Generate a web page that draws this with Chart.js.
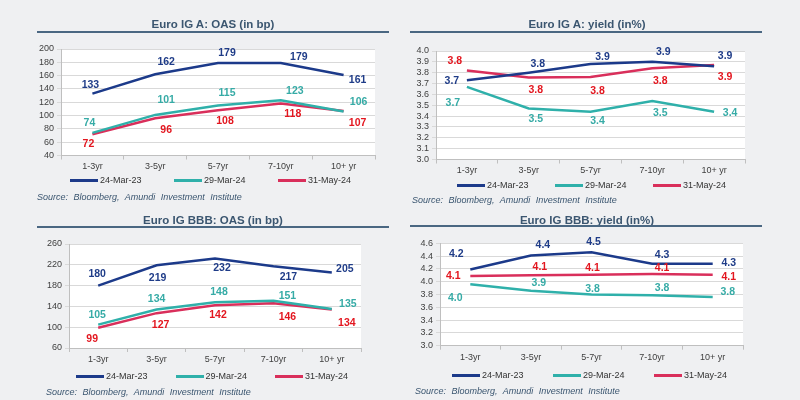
<!DOCTYPE html>
<html>
<head>
<meta charset="utf-8">
<script src="https://cdn.jsdelivr.net/npm/chart.js@4.4.0/dist/chart.umd.min.js"></script>
<style>
    body { margin: 0; width: 800px; height: 400px; background: #eff0f2; position: relative; overflow: hidden;
           font-family: "Liberation Sans", Arial, sans-serif; }
    canvas { position: absolute; }
    .title { position: absolute; width: 360px; text-align: center; font-weight: bold; font-size: 11.5px; color: #3b5670; }
    .rule { position: absolute; height: 2px; background: #4a6782; }
    .src { position: absolute; font-style: italic; font-size: 9px; color: #3b5670; word-spacing: 3px; white-space: nowrap; }
    .leg { position: absolute; font-size: 9px; color: #333; white-space: nowrap; line-height: 12px; }
    .leg i { display: inline-block; width: 28px; height: 3px; margin-right: 2px; vertical-align: middle; }
</style>
</head>
<body>
<canvas id="oasA" width="400" height="200" style="left:0;top:0"></canvas>
<canvas id="yldA" width="400" height="200" style="left:400px;top:0"></canvas>
<canvas id="oasBBB" width="400" height="200" style="left:0;top:200px"></canvas>
<canvas id="yldBBB" width="400" height="200" style="left:400px;top:200px"></canvas>

<script>
// data
const maturities = ['1-3yr', '3-5yr', '5-7yr', '7-10yr', '10+ yr'];
const seriesNames = ['24-Mar-23', '29-Mar-24', '31-May-24'];

const oasA_mar23 = [133, 162, 179, 179, 161];
const oasA_mar24 = [74, 101, 115, 123, 106];
const oasA_may24 = [72, 96, 108, 118, 107];

const yldA_mar23 = [3.73, 3.80, 3.88, 3.90, 3.86];
const yldA_mar24 = [3.67, 3.47, 3.44, 3.54, 3.44];
const yldA_may24 = [3.82, 3.755, 3.76, 3.84, 3.87];

const oasBBB_mar23 = [180, 219, 232, 217, 205];
const oasBBB_mar24 = [105, 134, 148, 151, 135];
const oasBBB_may24 = [99, 127, 142, 146, 134];

const yldBBB_mar23 = [4.19, 4.41, 4.46, 4.28, 4.28];
const yldBBB_mar24 = [3.96, 3.86, 3.80, 3.79, 3.76];
const yldBBB_may24 = [4.09, 4.10, 4.11, 4.12, 4.11];

// y axis ranges [min, max, step]
const oasA_axis = [40, 200, 20];
const yldA_axis = [3.0, 4.0, 0.1];
const oasBBB_axis = [60, 260, 40];
const yldBBB_axis = [3.0, 4.6, 0.2];

const lineColors = ['#1c3a8a', '#2fb0aa', '#d92f5b'];
const labelColors = ['#1f3c88', '#36aba6', '#e3161f'];
const sourceText = 'Source: Bloomberg, Amundi Investment Institute';

// value label offsets from the point, px [dx, dy], one row per series
const oasA_offsets = [
    [[-2, -8], [11, -12], [9, -10], [18, -6], [14, 5]],
    [[-3, -10], [11, -15], [9, -12], [14, -9], [15, -9]],
    [[-4, 10], [11, 12], [7, 11], [12, 11], [14, 12]]
];
const yldA_offsets = [
    [[-15, 1], [9, -9], [12, -7], [11, -10], [11, -10]],
    [[-14, 16], [7, 11], [7, 9], [8, 12], [16, 1]],
    [[-12, -9], [7, 13], [7, 14], [8, 13], [11, 12]]
];
const oasBBB_offsets = [
    [[-1, -11], [1, 13], [7, 10], [15, 11], [13, -3]],
    [[-1, -9], [0, -10], [4, -10], [14, -5], [16, -5]],
    [[-6, 11], [4, 12], [3, 10], [14, 14], [15, 14]]
];
const yldBBB_offsets = [
    [[-14, -15], [12, -10], [2, -10], [10, -9], [16, -1]],
    [[-15, 14], [8, -8], [1, -5], [10, -7], [15, -5]],
    [[-17, 0], [9, -8], [1, -7], [10, -6], [16, 2]]
];

const xAxisHeight = 18;

const whitePlot = {
    id: 'whitePlot',
    beforeDraw(chart) {
        const a = chart.chartArea;
        chart.ctx.save();
        chart.ctx.fillStyle = '#ffffff';
        chart.ctx.fillRect(a.left, a.top, a.right - a.left, a.bottom - a.top);
        chart.ctx.restore();
    }
};

const valueLabels = {
    id: 'valueLabels',
    afterDatasetsDraw(chart, args, opts) {
        const ctx = chart.ctx;
        ctx.save();
        ctx.font = 'bold 10.5px "Liberation Sans", Arial, sans-serif';
        ctx.textAlign = 'center';
        ctx.textBaseline = 'middle';
        chart.data.datasets.forEach((ds, si) => {
            chart.getDatasetMeta(si).data.forEach((pt, i) => {
                const off = opts.offsets[si][i];
                ctx.fillStyle = labelColors[si];
                ctx.fillText(opts.format(ds.data[i]), pt.x + off[0], pt.y + off[1]);
            });
        });
        ctx.restore();
    }
};

function makeChart(id, series, axis, decimals, offsets, box) {
    const fmt = v => Number(v).toFixed(decimals);
    return new Chart(document.getElementById(id), {
        type: 'line',
        data: {
            labels: maturities,
            datasets: series.map((d, i) => ({
                label: seriesNames[i],
                data: d,
                borderColor: lineColors[i],
                backgroundColor: lineColors[i],
                borderWidth: 2.5,
                pointRadius: 0,
                tension: 0
            }))
        },
        options: {
            responsive: false,
            animation: false,
            layout: { padding: { left: 0, top: box.t, right: 400 - box.r, bottom: 200 - box.b - xAxisHeight } },
            plugins: {
                legend: { display: false },
                tooltip: { enabled: false },
                valueLabels: { offsets: offsets, format: fmt }
            },
            scales: {
                x: {
                    offset: true,
                    grid: { drawOnChartArea: false, tickLength: 4, color: '#bfbfbf', offset: true },
                    border: { color: '#bfbfbf' },
                    ticks: { font: { size: 9 }, color: '#404040', padding: 2, maxRotation: 0 },
                    afterFit: s => { s.height = xAxisHeight; }
                },
                y: {
                    min: axis[0], max: axis[1],
                    ticks: {
                        stepSize: axis[2], autoSkip: false, maxTicksLimit: 20,
                        font: { size: 9, lineHeight: 1 }, color: '#404040', padding: 3, callback: fmt
                    },
                    grid: { color: '#d9d9d9', tickLength: 4 },
                    border: { color: '#bfbfbf' },
                    afterFit: s => { s.width = box.l; }
                }
            }
        },
        plugins: [whitePlot, valueLabels]
    });
}

function addPanelText(p) {
    const t = document.createElement('div');
    t.className = 'title';
    t.textContent = p.title;
    t.style.left = (p.titleX - 180) + 'px';
    t.style.top = (p.titleY - 7) + 'px';
    document.body.appendChild(t);

    const r = document.createElement('div');
    r.className = 'rule';
    r.style.left = p.rule[0] + 'px';
    r.style.width = (p.rule[1] - p.rule[0]) + 'px';
    r.style.top = (p.rule[2] - 1) + 'px';
    document.body.appendChild(r);

    seriesNames.forEach((name, i) => {
        const item = document.createElement('div');
        item.className = 'leg';
        item.innerHTML = `<i style="background:${lineColors[i]}"></i>${name}`;
        item.style.left = (p.legX + i * p.legGap) + 'px';
        item.style.top = (p.legY - 6) + 'px';
        document.body.appendChild(item);
    });

    const s = document.createElement('div');
    s.className = 'src';
    s.textContent = sourceText;
    s.style.left = p.src[0] + 'px';
    s.style.top = (p.src[1] - 6) + 'px';
    document.body.appendChild(s);
}

makeChart('oasA', [oasA_mar23, oasA_mar24, oasA_may24], oasA_axis, 0, oasA_offsets,
    { l: 61, t: 49, r: 375, b: 155.5 });
makeChart('yldA', [yldA_mar23, yldA_mar24, yldA_may24], yldA_axis, 1, yldA_offsets,
    { l: 36, t: 51, r: 345, b: 159.5 });
makeChart('oasBBB', [oasBBB_mar23, oasBBB_mar24, oasBBB_may24], oasBBB_axis, 0, oasBBB_offsets,
    { l: 69, t: 44, r: 361, b: 148 });
makeChart('yldBBB', [yldBBB_mar23, yldBBB_mar24, yldBBB_may24], yldBBB_axis, 1, yldBBB_offsets,
    { l: 40, t: 43.3, r: 343, b: 145.7 });

addPanelText({ title: 'Euro IG A: OAS (in bp)', titleX: 213, titleY: 25, rule: [37, 389, 32],
    legX: 70, legY: 180, legGap: 104, src: [37, 198] });
addPanelText({ title: 'Euro IG A: yield (in%)', titleX: 587, titleY: 25, rule: [410, 762, 32],
    legX: 457, legY: 185, legGap: 98, src: [412, 201] });
addPanelText({ title: 'Euro IG BBB: OAS (in bp)', titleX: 213, titleY: 221, rule: [37, 389, 227],
    legX: 76, legY: 376, legGap: 99.5, src: [46, 393] });
addPanelText({ title: 'Euro IG BBB: yield (in%)', titleX: 587, titleY: 221, rule: [410, 762, 226],
    legX: 452, legY: 375, legGap: 101, src: [415, 392] });
</script>
</body>
</html>
